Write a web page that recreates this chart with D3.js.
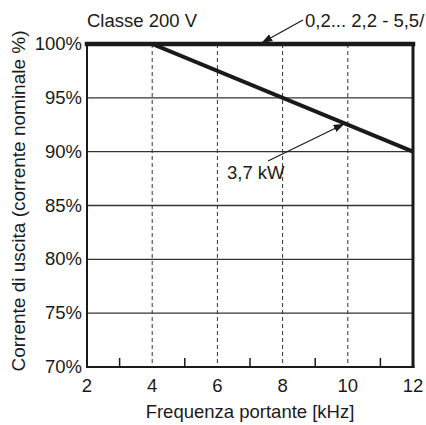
<!DOCTYPE html>
<html><head><meta charset="utf-8">
<script src="https://cdn.jsdelivr.net/npm/d3@7"></script>
<style>body{margin:0;background:#fff}text{font-family:"Liberation Sans",Arial,sans-serif;fill:#1a1a1a}</style>
</head><body><svg id="c" width="426" height="425"></svg>
<script>
const xTicks = [2,4,6,8,10,12];
const xMinor = [3,5,7,9,11];
const yTicks = [70,75,80,85,90,95,100];
const seriesSmall = [[2,100],[12,100]];
const series37 = [[2,100],[4,100],[12,90]];
const labels = {title:"Classe 200 V", small:"0,2... 2,2 - 5,5/", big:"3,7 kW",
  x:"Frequenza portante [kHz]", y:"Corrente di uscita (corrente nominale %)"};

const svg = d3.select("#c");
const x = d3.scaleLinear().domain([2,12]).range([87,413]);
const y = d3.scaleLinear().domain([70,100]).range([367,44]);
const col = "#1a1a1a";
const fs = 18.5;

svg.selectAll(".hg").data(yTicks.filter(d=>d>70&&d<100)).enter().append("line")
 .attr("x1",x(2)).attr("x2",x(12)).attr("y1",d=>y(d)).attr("y2",d=>y(d))
 .attr("stroke","#333").attr("stroke-width",1.4);
svg.selectAll(".vg").data(xTicks.filter(d=>d>2&&d<12)).enter().append("line")
 .attr("x1",d=>x(d)).attr("x2",d=>x(d)).attr("y1",y(100)).attr("y2",y(70))
 .attr("stroke","#333").attr("stroke-width",1).attr("stroke-dasharray","4,3");
svg.selectAll(".mt").data(xMinor).enter().append("line")
 .attr("x1",d=>x(d)).attr("x2",d=>x(d)).attr("y1",y(70)).attr("y2",y(70)-9)
 .attr("stroke",col).attr("stroke-width",1.5);
svg.append("line").attr("x1",x(2)).attr("x2",x(2)).attr("y1",y(100)).attr("y2",y(70)).attr("stroke",col).attr("stroke-width",2);
svg.append("line").attr("x1",x(12)).attr("x2",x(12)).attr("y1",y(100)).attr("y2",y(70)+1).attr("stroke",col).attr("stroke-width",3);
svg.append("line").attr("x1",x(2)-1).attr("x2",x(12)+1.5).attr("y1",y(70)).attr("y2",y(70)).attr("stroke",col).attr("stroke-width",2);

const line = d3.line().x(d=>x(d[0])).y(d=>y(d[1]));
svg.append("path").attr("d",line(series37)).attr("fill","none").attr("stroke",col).attr("stroke-width",4);
svg.append("path").attr("d",line(seriesSmall)).attr("fill","none").attr("stroke",col).attr("stroke-width",4.5).attr("stroke-linecap","square");

svg.selectAll(".xl").data(xTicks).enter().append("text")
 .attr("x",d=>x(d)).attr("y",y(70)+25).attr("text-anchor","middle").attr("font-size",fs).text(d=>d);
svg.selectAll(".yl").data(yTicks).enter().append("text")
 .attr("x",x(2)-5).attr("y",d=>y(d)+6).attr("text-anchor","end").attr("font-size",fs).text(d=>d+"%");

svg.append("text").attr("x",250).attr("y",418).attr("text-anchor","middle").attr("font-size",fs).text(labels.x);
svg.append("text").attr("transform","translate(25,201) rotate(-90)").attr("text-anchor","middle").attr("font-size",19).text(labels.y);

svg.append("defs").append("marker").attr("id","ah").attr("viewBox","0 0 10 10").attr("refX",10).attr("refY",5)
 .attr("markerWidth",11).attr("markerHeight",11).attr("markerUnits","userSpaceOnUse").attr("orient","auto")
 .append("path").attr("d","M0,1.5 L10,5 L0,8.5 Z").attr("fill",col);
svg.append("text").attr("x",87).attr("y",27).attr("font-size",fs).text(labels.title);
svg.append("text").attr("x",305).attr("y",27).attr("font-size",fs).text(labels.small);
svg.append("line").attr("x1",303).attr("y1",20).attr("x2",x(7.35)).attr("y2",y(100)-1)
 .attr("stroke",col).attr("stroke-width",1.2).attr("marker-end","url(#ah)");
svg.append("text").attr("x",227).attr("y",179).attr("font-size",fs).text(labels.big);
svg.append("line").attr("x1",268).attr("y1",161).attr("x2",x(9.9)).attr("y2",y(92.6))
 .attr("stroke",col).attr("stroke-width",1.2).attr("marker-end","url(#ah)");
</script></body></html>
